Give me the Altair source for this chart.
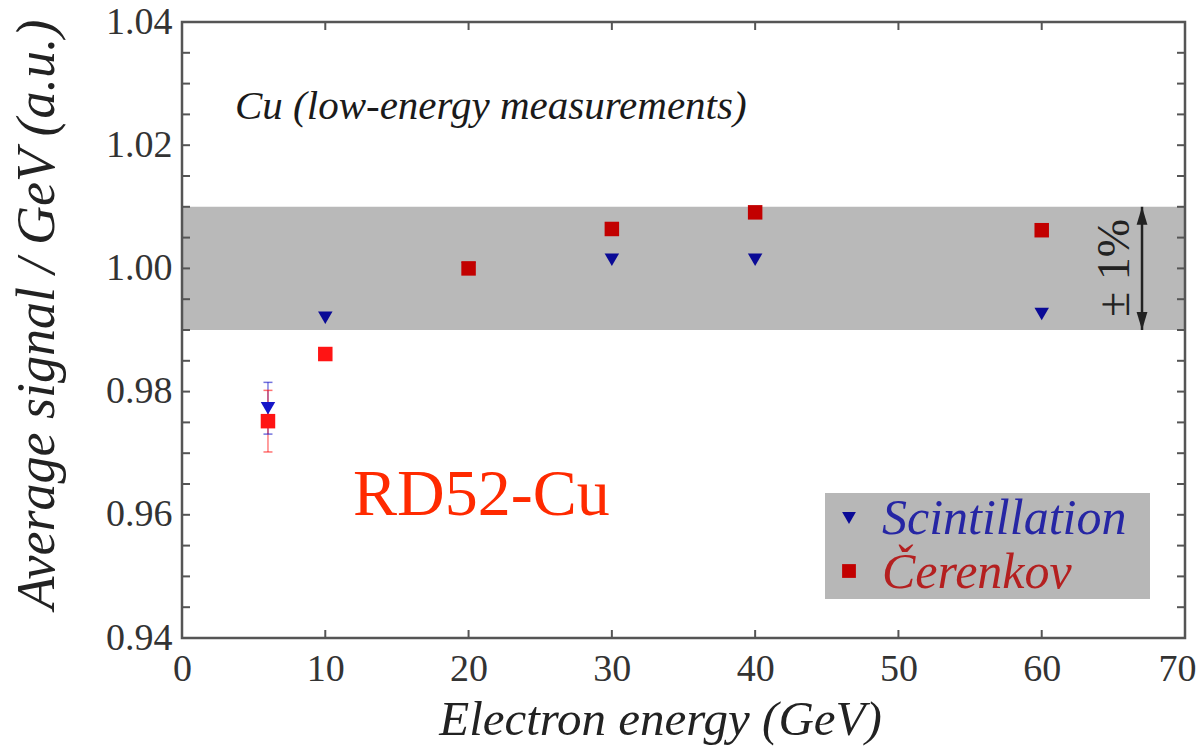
import altair as alt
import pandas as pd

# ---- data -------------------------------------------------------------
energy = [6, 10, 20, 30, 40, 60]                      # GeV
scint = [0.9773, 0.9920, 1.0000, 1.0014, 1.0014, 0.9926]
ceren = [0.9752, 0.9861, 1.0000, 1.0064, 1.0091, 1.0062]
scint_err = [0.0042, 0.0, 0.0, 0.0, 0.0, 0.0]
ceren_err = [0.0050, 0.0, 0.0, 0.0, 0.0, 0.0]

series_names = ["Scintillation", "Čerenkov"]
series_shapes = ["triangle-down", "square"]
# marker colours: on white paper / seen through the grey ±1% band
bright_colors = ["#1616c8", "#ff1414"]
dark_colors = ["#0a0a96", "#c20000"]
label_colors = ["#2626a4", "#b42020"]

x_labels = [0, 10, 20, 30, 40, 50, 60, 70]
y_labels = [0.94, 0.96, 0.98, 1.00, 1.02, 1.04]
y_ticks = [0.94, 0.945, 0.95, 0.955, 0.96, 0.965, 0.97, 0.975, 0.98, 0.985,
           0.99, 0.995, 1.00, 1.005, 1.01, 1.015, 1.02, 1.025, 1.03, 1.035, 1.04]
band_lo, band_hi = 0.99, 1.01
arrow_x = 67

FONT = "'Liberation Serif', 'Times New Roman', Times, serif"
W, H = 1003, 616
FRAME = "#555555"

# ---- scales / axes ----------------------------------------------------
xs = alt.Scale(domain=[0, 70], nice=False, zero=False)
ys = alt.Scale(domain=[0.94, 1.04], nice=False, zero=False)

xaxis = alt.Axis(values=x_labels, format="d", title="Electron energy (GeV)",
                 ticks=False, domain=False, grid=False, labelFlush=False,
                 labelOverlap=False, labelFont=FONT, labelFontSize=38,
                 labelColor="#333333", labelPadding=12,
                 labelOffset={"condition": {"test": "datum.value == 70", "value": -8},
                              "value": 0},
                 titleFont=FONT, titleFontSize=49, titleFontStyle="italic",
                 titleFontWeight="normal", titleColor="#222222",
                 titleX=478, titleY=96, titleAlign="center",
                 titleBaseline="alphabetic")
yaxis = alt.Axis(values=y_labels, format=".2f", title="Average signal / GeV (a.u.)",
                 ticks=False, domain=False, grid=False, labelFlush=False,
                 labelOverlap=False, labelFont=FONT, labelFontSize=38,
                 labelColor="#333333", labelPadding=10,
                 titleFont=FONT, titleFontSize=54, titleFontStyle="italic",
                 titleFontWeight="normal", titleColor="#222222",
                 titleAngle=270, titleX=-129, titleY=292, titleAlign="center",
                 titleBaseline="alphabetic")


def X(field):
    return alt.X(field, type="quantitative", scale=xs, axis=xaxis)


def Y(field):
    return alt.Y(field, type="quantitative", scale=ys, axis=yaxis)


# ---- tables -----------------------------------------------------------
points = pd.DataFrame({
    "energy": energy * 2,
    "value": scint + ceren,
    "err": scint_err + ceren_err,
    "series": [series_names[0]] * len(energy) + [series_names[1]] * len(energy),
})
points["lo"] = points["value"] - points["err"]
points["hi"] = points["value"] + points["err"]
inband = (points["value"] >= band_lo) & (points["value"] <= band_hi)
points["shade"] = [s + (" (band)" if b else "") for s, b in zip(points["series"], inband)]
errs = points[points["err"] > 0]

shade_domain = list(series_names) + [n + " (band)" for n in series_names]
shade_scale = alt.Scale(domain=shade_domain, range=bright_colors + dark_colors)
shape_scale = alt.Scale(domain=series_names, range=series_shapes)
shade = alt.Color("shade:N", scale=shade_scale, legend=None)

band = pd.DataFrame({"x0": [0], "x1": [70], "y0": [band_lo], "y1": [band_hi]})
one = pd.DataFrame({"k": [0]})

# ---- layers -----------------------------------------------------------
band_layer = alt.Chart(band).mark_rect(color="#b9b9b9").encode(
    x=X("x0"), x2="x1", y=Y("y0"), y2="y1")

legend_box = alt.Chart(one).mark_rect(color="#b7b7b7").encode(
    x=alt.value(643), x2=alt.value(968), y=alt.value(471), y2=alt.value(577))

err_rules = alt.Chart(errs).mark_rule(strokeWidth=1.5, opacity=0.55).encode(
    x=X("energy"), y=Y("lo"), y2="hi", color=shade)
err_caps_lo = alt.Chart(errs).mark_tick(orient="horizontal", size=9, thickness=1.5,
                                        opacity=0.6).encode(
    x=X("energy"), y=Y("lo"), color=shade)
err_caps_hi = alt.Chart(errs).mark_tick(orient="horizontal", size=9, thickness=1.5,
                                        opacity=0.6).encode(
    x=X("energy"), y=Y("hi"), color=shade)

# scintillation rows come first, so the Čerenkov squares sit on top
marks = alt.Chart(points).mark_point(filled=True, opacity=1, size=210).encode(
    x=X("energy"), y=Y("value"), color=shade,
    shape=alt.Shape("series:N", scale=shape_scale, legend=None))

# hand-drawn legend inside the grey box
legend_layers = []
for i, (name, col, shp, lcol) in enumerate(zip(series_names, dark_colors,
                                                series_shapes, label_colors)):
    legend_layers.append(
        alt.Chart(one).mark_point(filled=True, opacity=1, size=190, shape=shp,
                                  color=col).encode(
            x=alt.value(667), y=alt.value(496 + 53 * i)))
    legend_layers.append(
        alt.Chart(one).mark_text(text=name, font=FONT, fontSize=50,
                                 fontStyle="italic", color=lcol, align="left",
                                 baseline="alphabetic").encode(
            x=alt.value(700), y=alt.value(512 + 54 * i)))

cu_label = alt.Chart(one).mark_text(
    text="Cu (low-energy measurements)", font=FONT, fontSize=41,
    fontStyle="italic", color="#1a1a1a", align="left",
    baseline="alphabetic").encode(x=alt.value(53), y=alt.value(97))

rd52_label = alt.Chart(one).mark_text(
    text="RD52-Cu", font=FONT, fontSize=66, color="#ff2a00", align="left",
    baseline="alphabetic").encode(x=alt.value(171), y=alt.value(493))

pct_label = alt.Chart(one).mark_text(
    text="± 1%", font=FONT, fontSize=46, color="#222222", angle=270,
    align="center", baseline="alphabetic").encode(x=alt.value(947), y=alt.value(246))

arrow_df = pd.DataFrame({"x": [arrow_x], "lo": [band_lo], "hi": [band_hi]})
arrow_line = alt.Chart(arrow_df).mark_rule(color="#222222", strokeWidth=2.5).encode(
    x=X("x"), y=Y("lo"), y2="hi")
head_up = alt.Chart(arrow_df).mark_point(
    filled=True, opacity=1, color="#222222", size=1300,
    shape="M0,0L-0.3,1L0.3,1Z").encode(x=X("x"), y=Y("hi"))
head_down = alt.Chart(arrow_df).mark_point(
    filled=True, opacity=1, color="#222222", size=1300,
    shape="M0,0L-0.3,-1L0.3,-1Z").encode(x=X("x"), y=Y("lo"))

# inward ticks on all four sides of the frame
ytick_df = pd.DataFrame({"y": y_ticks})
xtick_df = pd.DataFrame({"x": x_labels})
tick_style = dict(color=FRAME, strokeWidth=2)
ticks_left = alt.Chart(ytick_df).mark_rule(**tick_style).encode(
    y=Y("y"), x=alt.value(0), x2=alt.value(8))
ticks_right = alt.Chart(ytick_df).mark_rule(**tick_style).encode(
    y=Y("y"), x=alt.value(W - 8), x2=alt.value(W))
ticks_bottom = alt.Chart(xtick_df).mark_rule(**tick_style).encode(
    x=X("x"), y=alt.value(H - 8), y2=alt.value(H))
ticks_top = alt.Chart(xtick_df).mark_rule(**tick_style).encode(
    x=X("x"), y=alt.value(0), y2=alt.value(8))

frame = alt.Chart(one).mark_rect(filled=False, stroke=FRAME, strokeWidth=2.5).encode(
    x=alt.value(0), x2=alt.value(W), y=alt.value(0), y2=alt.value(H))

chart = alt.layer(
    band_layer, legend_box, err_rules, err_caps_lo, err_caps_hi, marks,
    *legend_layers, cu_label, rd52_label, arrow_line, head_up, head_down,
    pct_label, ticks_left, ticks_right, ticks_bottom, ticks_top, frame,
).properties(
    width=W, height=H,
    padding={"left": 182, "top": 22, "right": 13, "bottom": 108},
    autosize=alt.AutoSizeParams(type="none"),
    background="white",
).configure_view(stroke=None)

chart.save("out.html", embed_options={"renderer": "svg", "actions": False})
